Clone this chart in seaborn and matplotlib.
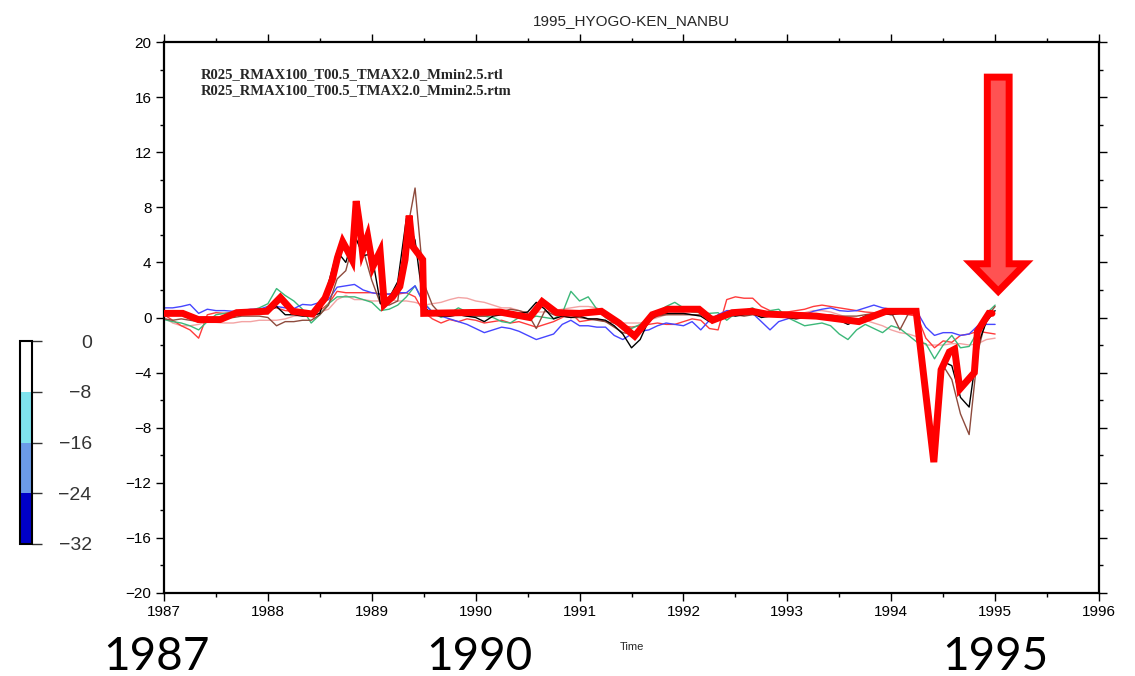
import numpy as np
import pandas as pd
import matplotlib
matplotlib.use("Agg")
import matplotlib.pyplot as plt
import matplotlib as mpl
from matplotlib.patches import FancyArrow
from matplotlib.ticker import MultipleLocator
import seaborn as sns

# ---- data -------------------------------------------------------------
# monthly samples, Jan 1987 .. Jan 1995
start_year = 1987
n_months = 97

black = [0.35, 0.4, 0.3, 0.2, 0.0, 0.0, -0.1, 0.1, 0.3, 0.3, 0.4, 0.35,
         0.4, 0.8, 0.2, 0.2, 0.1, 0.1, 0.3, 2.5, 4.8, 4.0, 6.0, 4.5,
         4.6, 1.0, 1.4, 2.6, 7.2, 5.6, 0.8, 0.2, 0.1, 0.1, 0.2, 0.1,
         0.0, -0.3, 0.1, 0.2, 0.3, 0.3, 0.4, 1.1, 0.6, -0.1, 0.1, 0.0,
         0.1, -0.1, -0.1, -0.2, -0.6, -1.2, -2.2, -1.6, -0.2, 0.2, 0.3, 0.3,
         0.3, 0.2, 0.1, -0.3, 0.0, 0.2, 0.1, 0.2, 0.3, 0.0, 0.1, 0.1,
         0.0, -0.1, 0.0, 0.0, -0.1, -0.1, -0.2, -0.5, -0.2, 0.1, 0.2, 0.3,
         0.2, 0.3, 0.4, 0.3, -6.5, -10.4, -3.2, -3.5, -5.8, -6.5, -2.0, -0.3,
         0.5]

brown = [-0.1, -0.2, -0.1, -0.2, -0.3, -0.2, -0.1, 0.0, 0.0, 0.1, 0.1, 0.1,
         0.0, -0.6, -0.3, -0.3, -0.2, -0.2, 0.2, 0.9, 2.8, 3.4, 5.8, 4.9,
         2.7, 1.0, 0.9, 1.2, 6.0, 9.4, 2.5, 0.9, 0.2, 0.1, 0.2, 0.1,
         0.1, 0.1, 0.2, 0.4, 0.6, 0.5, 0.3, -0.8, 0.5, 0.2, 0.1, 0.0,
         0.0, -0.1, -0.2, -0.3, -0.7, -1.1, -1.2, -0.8, -0.2, 0.1, 0.2, 0.2,
         0.2, 0.2, 0.2, 0.0, 0.1, 0.2, 0.2, 0.1, 0.2, 0.1, 0.1, 0.1,
         0.1, 0.1, 0.0, 0.1, 0.2, 0.2, 0.1, 0.1, 0.1, 0.2, 0.3, 0.4,
         0.4, -0.9, 0.3, 0.3, -4.5, -10.0, -3.5, -4.5, -7.0, -8.5, -2.5, 0.0,
         0.8]

blue = [0.7, 0.7, 0.8, 0.95, 0.3, 0.6, 0.5, 0.5, 0.45, 0.5, 0.6, 0.6,
        0.8, 0.8, 0.7, 0.65, 0.95, 0.9, 1.1, 1.3, 2.2, 2.3, 2.4, 2.0,
        1.8, 1.7, 1.7, 1.8, 1.8, 2.3, 1.0, 0.4, 0.1, -0.1, -0.3, -0.5,
        -0.8, -1.1, -0.9, -0.7, -0.8, -1.0, -1.3, -1.6, -1.4, -1.2, -0.5, -0.2,
        -0.6, -0.6, -0.7, -0.7, -1.3, -1.6, -1.2, -1.0, -0.9, -0.6, -0.4, -0.5,
        -0.6, -0.3, -0.9, -0.2, 0.2, 0.5, 0.5, 0.4, 0.3, -0.3, -0.9, -0.3,
        -0.1, 0.1, 0.2, 0.45, 0.6, 0.7, 0.5, 0.45, 0.5, 0.7, 0.9, 0.7,
        0.6, 0.5, 0.45, 0.4, -0.7, -1.3, -1.1, -1.1, -1.3, -1.2, -0.6, -0.5,
        -0.5]

green = [-0.15, -0.3, -0.4, -0.6, -0.9, -0.3, 0.2, 0.3, 0.35, 0.4, 0.5, 0.7,
         1.0, 2.1, 1.6, 1.2, 0.6, -0.4, 0.2, 1.0, 1.5, 1.5, 1.5, 1.3,
         1.1, 0.5, 0.6, 0.9, 1.5, 2.3, 1.1, 0.4, 0.0, 0.3, 0.7, 0.4,
         0.1, 0.1, 0.0, -0.3, -0.4, 0.0, -0.1, 0.1, 0.0, -0.1, 0.3, 1.9,
         1.2, 1.5, 0.6, 0.0, -0.4, -0.6, -0.8, -0.5, -0.1, 0.4, 0.8, 1.1,
         0.7, 0.4, 0.35, 0.3, 0.35, -0.2, 0.3, 0.5, 0.7, 0.2, 0.5, 0.6,
         0.0, -0.3, -0.6, -0.5, -0.4, -0.6, -1.2, -1.6, -0.9, -0.5, -0.8, -1.1,
         -0.6, -0.8, -1.3, -1.8, -1.9, -3.0, -2.0, -1.3, -2.2, -2.1, -1.0, 0.3,
         0.9]

red_thin = [0.2, -0.2, -0.6, -0.9, -1.5, 0.2, 0.35, 0.3, 0.4, 0.45, 0.5, 0.6,
            0.6, 0.7, 0.5, 0.45, 0.35, 0.3, 0.5, 1.0, 1.9, 1.8, 1.8, 1.8,
            1.8, 1.7, 1.7, 1.7, 1.8, 1.5, 0.4, -0.1, -0.4, -0.15, -0.3, -0.1,
            -0.2, -0.4, -0.3, -0.2, -0.4, -0.3, -0.5, -0.7, -0.5, -0.3, 0.0, 0.35,
            -0.3, -0.2, -0.1, -0.3, -0.4, -0.6, -0.7, -0.6, -0.5, -0.4, -0.5, -0.5,
            -0.3, -0.1, -0.2, -0.8, -0.9, 1.3, 1.5, 1.4, 1.4, 0.8, 0.5, 0.35,
            0.4, 0.5, 0.6, 0.8, 0.9, 0.8, 0.7, 0.6, 0.5, 0.4, 0.35, 0.4,
            0.3, 0.3, 0.2, 0.1, -1.5, -2.2, -1.7, -1.8, -1.3, -1.2, -1.0, -1.1,
            -1.2]

pink = [0.0, -0.4, -0.6, -0.6, -0.5, -0.3, -0.35, -0.4, -0.4, -0.3, -0.3, -0.2,
        -0.2, -0.2, -0.1, 0.1, 0.15, 0.2, 0.4, 0.6, 1.3, 1.6, 1.3, 1.3,
        1.2, 1.2, 1.3, 1.2, 1.2, 1.1, 0.9, 1.0, 1.1, 1.3, 1.45, 1.4,
        1.2, 1.1, 0.9, 0.7, 0.7, 0.5, 0.35, 0.4, 0.4, 0.5, 0.6, 0.7,
        0.8, 0.8, 0.7, 0.2, -0.1, -0.4, -0.4, -0.4, -0.2, 0.0, 0.2, 0.3,
        0.3, 0.2, 0.2, 0.1, 0.1, 0.2, 0.2, 0.3, 0.3, 0.35, 0.4, 0.35,
        0.3, 0.3, 0.35, 0.5, 0.5, 0.4, 0.2, 0.0, -0.1, -0.2, -0.4, -0.6,
        -0.9, -1.1, -1.2, -1.4, -2.0, -2.0, -2.0, -1.9, -1.9, -2.0, -1.9, -1.6,
        -1.5]

# bold summary curve (irregular vertices)
summary_year = [1987.00, 1987.18, 1987.33, 1987.54, 1987.70, 1987.99, 1988.12,
                1988.24, 1988.43, 1988.55, 1988.62, 1988.67, 1988.72, 1988.77,
                1988.81, 1988.85, 1988.88, 1988.91, 1988.96, 1989.01, 1989.08,
                1989.12, 1989.20, 1989.27, 1989.32, 1989.36, 1989.39, 1989.43,
                1989.49, 1989.50, 1990.23, 1990.52, 1990.64, 1990.78, 1991.00,
                1991.21, 1991.38, 1991.53, 1991.70, 1991.85, 1992.15, 1992.28,
                1992.47, 1992.66, 1992.80, 1993.28, 1993.69, 1993.95, 1994.24,
                1994.41, 1994.48, 1994.56, 1994.61, 1994.66, 1994.80, 1994.83,
                1994.94, 1994.97]
summary_val = [0.3, 0.3, -0.15, -0.15, 0.35, 0.45, 1.45,
               0.45, 0.25, 1.4, 2.75, 4.35, 5.5, 4.8,
               4.2, 8.45, 6.9, 4.8, 5.9, 3.7, 4.8,
               0.95, 1.5, 2.25, 4.2, 7.4, 5.2, 4.8,
               4.2, 0.3, 0.4, 0.0, 1.15, 0.35, 0.3,
               0.45, -0.4, -1.35, 0.2, 0.6, 0.6, -0.2,
               0.35, 0.45, 0.25, 0.1, -0.3, 0.45, 0.45,
               -10.5, -3.8, -2.5, -2.3, -5.2, -4.0, -1.0,
               0.3, 0.3]

year_ticks = list(range(1987, 1997))
value_ticks = list(range(-20, 21, 4))
cbar_bounds = [-32, -24, -16, -8, 0]
cbar_colors = ["#0000c8", "#6b9be9", "#7fe3ee", "#ffffff"]
file_names = ["R025_RMAX100_T00.5_TMAX2.0_Mmin2.5.rtl",
              "R025_RMAX100_T00.5_TMAX2.0_Mmin2.5.rtm"]
era_labels = ["1987", "1990", "1995"]
era_years = [1986.93, 1990.04, 1995.0]

# ---- styling ----------------------------------------------------------
sns.set_theme(style="ticks")
plt.rcParams["font.family"] = ["Liberation Sans", "DejaVu Sans"]
plt.rcParams["axes.unicode_minus"] = True

W, H = 1135, 676
fig = plt.figure(figsize=(W / 100, H / 100), dpi=100)
fig.patch.set_facecolor("white")

ax_l, ax_r, ax_t, ax_b = 164, 1099, 42, 593
ax = fig.add_axes([ax_l / W, 1 - ax_b / H, (ax_r - ax_l) / W, (ax_b - ax_t) / H])
ax.set_facecolor("white")

months = np.arange(n_months)
t = start_year + months / 12.0
thin = pd.DataFrame({
    "t": np.tile(t, 6),
    "v": np.concatenate([pink, red_thin, green, blue, brown, black]),
    "series": np.repeat(["pink", "red", "green", "blue", "brown", "black"], n_months),
})
palette = {"pink": "#f3a3a3", "red": "#ff3b3b", "green": "#3cb879",
           "blue": "#4646ff", "brown": "#8e4b3d", "black": "#000000"}
sns.lineplot(data=thin, x="t", y="v", hue="series", palette=palette,
             estimator=None, sort=False, linewidth=1.0, legend=False, ax=ax)

sns.lineplot(x=summary_year, y=summary_val, color="#ff0000", linewidth=5.0,
             estimator=None, sort=False, ax=ax, zorder=5,
             solid_joinstyle="miter")

ax.set_xlim(1987, 1996)
ax.set_ylim(-20, 20)
ax.set_xticks(year_ticks)
ax.set_yticks(value_ticks)
ax.xaxis.set_minor_locator(MultipleLocator(0.5))
ax.yaxis.set_minor_locator(MultipleLocator(2))
ax.tick_params(which="both", direction="out", top=True, right=True,
               labelsize=11, colors="black", width=1.0)
ax.tick_params(which="major", length=6, pad=3)
ax.tick_params(which="minor", length=3)
for s in ax.spines.values():
    s.set_linewidth(1.6)
    s.set_color("black")
ax.grid(False)

ax.set_xlabel("Time", fontsize=8, labelpad=16)
ax.set_ylabel("")
ax.set_title("1995_HYOGO-KEN_NANBU", fontsize=11, pad=12)

# file-name annotations
for k, name in enumerate(file_names):
    ax.text(1987.35, 17.65 - k * 1.17, name, fontsize=10.5, fontweight="bold",
            family=["Liberation Serif", "DejaVu Serif"], va="center", ha="left")

# downward arrow
arrow = FancyArrow(1995.03, 17.45, 0, -15.55, width=0.21, head_width=0.52,
                   head_length=2.0, length_includes_head=True,
                   facecolor="#ff5252", edgecolor="#ff0000", linewidth=5,
                   joinstyle="miter", zorder=6)
ax.add_patch(arrow)

# era labels under the axis
for lab, yr in zip(era_labels, era_years):
    xf = (ax_l + (yr - 1987) / 9 * (ax_r - ax_l)) / W
    fig.text(xf, 1 - 657 / H, lab, fontsize=33, family=["Lato", "DejaVu Sans"],
             ha="center", va="center", color="black")

# colour bar
cax = fig.add_axes([20 / W, 1 - 544 / H, 12 / W, (544 - 341) / H])
cmap = mpl.colors.ListedColormap(cbar_colors)
norm = mpl.colors.BoundaryNorm(cbar_bounds, cmap.N)
cb = mpl.colorbar.ColorbarBase(cax, cmap=cmap, norm=norm, orientation="vertical",
                               ticks=cbar_bounds)
cb.outline.set_linewidth(1.5)
cb.outline.set_edgecolor("black")
cax.tick_params(axis="y", length=7, width=1.0, labelsize=14, colors="#333333",
                pad=36)
cax.set_yticklabels([str(b).replace("-", "\u2212") for b in cbar_bounds])
for lbl in cax.get_yticklabels():
    lbl.set_ha("right")

fig.savefig("out.png", dpi=100, facecolor="white")
